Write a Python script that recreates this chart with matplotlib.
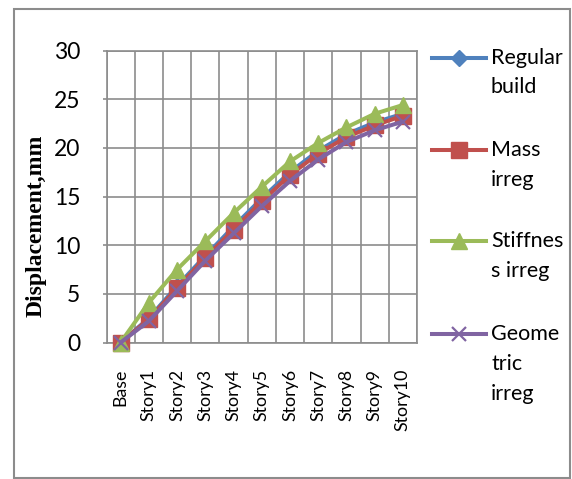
import matplotlib
matplotlib.use("Agg")
import matplotlib.pyplot as plt
from matplotlib.lines import Line2D
from matplotlib.patches import Rectangle

# Storey displacement data (mm)
stories = ["Base", "Story1", "Story2", "Story3", "Story4", "Story5",
           "Story6", "Story7", "Story8", "Story9", "Story10"]
regular = [0, 2.5, 5.8, 8.9, 11.9, 14.8, 17.5, 19.7, 21.4, 22.6, 23.5]
mass = [0, 2.4, 5.6, 8.7, 11.6, 14.5, 17.2, 19.4, 21.1, 22.3, 23.3]
stiffness = [0, 4.1, 7.5, 10.4, 13.3, 16.0, 18.6, 20.5, 22.1, 23.5, 24.4]
geometric = [0, 2.2, 5.3, 8.4, 11.2, 14.0, 16.6, 18.8, 20.6, 21.8, 22.7]

series_labels = ["Regular\nbuild", "Mass\nirreg", "Stiffnes\ns irreg", "Geome\ntric\nirreg"]
y_ticks = [0, 5, 10, 15, 20, 25, 30]

colors = ["#4F81BD", "#C0504D", "#9BBB59", "#8064A2"]
markers = ["D", "s", "^", "x"]
msizes = [8, 12, 12, 10]
values = [regular, mass, stiffness, geometric]

W, H = 572, 479
fig = plt.figure(figsize=(W / 100, H / 100), dpi=100)
fig.patch.set_facecolor("white")

def px(x, y):
    return x / W, 1 - y / H

left, top, right, bottom = 106.5, 50.5, 417, 342.5
ax = fig.add_axes([left / W, 1 - bottom / H, (right - left) / W, (bottom - top) / H])

grid_c = "#8C8C8C"
x = list(range(len(stories)))
for vals, c, m, ms in zip(values, colors, markers, msizes):
    ax.plot(x, vals, color=c, lw=2.9, marker=m, ms=ms, mfc=c, mec=c,
            mew=1.6 if m == "x" else 1, solid_capstyle="round", zorder=3,
            clip_on=False)

ax.set_xlim(-0.5, len(stories) - 0.5)
ax.set_ylim(0, 30)
ax.set_yticks(y_ticks)
ax.set_yticklabels([str(t) for t in y_ticks], fontsize=16.5, family="Lato")
ax.set_xticks(x)
ax.set_xticklabels(stories, rotation=90, fontsize=12.8, family="Lato", va="top")
ax.tick_params(axis="x", length=0, pad=19)
ax.tick_params(axis="y", length=3, width=1.2, color=grid_c, pad=16)

# vertical gridlines at category boundaries, horizontal at major ticks
for b in range(len(stories) + 1):
    ax.axvline(b - 0.5, color=grid_c, lw=1.2, zorder=1)
for t in y_ticks:
    ax.axhline(t, color=grid_c, lw=1.2, zorder=1)
for s in ax.spines.values():
    s.set_color(grid_c)
    s.set_linewidth(1.2)

# vertical axis title
fig.text(*px(36, 226), "Displacement,mm", rotation=90, ha="center", va="center",
         fontsize=17, fontweight="bold", family="Liberation Serif")

# legend drawn entry by entry
entry_y = [57.5, 150.5, 241, 334]
for lab, c, m, ms, yy in zip(series_labels, colors, markers, msizes, entry_y):
    x0, y0 = px(432, yy)
    x1, _ = px(486, yy)
    fig.add_artist(Line2D([x0, x1], [y0, y0], color=c, lw=2.9, transform=fig.transFigure))
    fig.add_artist(Line2D([(x0 + x1) / 2], [y0], color=c, marker=m, ms=ms, mfc=c, mec=c,
                          mew=1.6 if m == "x" else 1, transform=fig.transFigure))
    fig.text(*px(491, yy - 10), lab, ha="left", va="top", fontsize=15.5, family="Lato",
             linespacing=1.62)

# chart border
fig.add_artist(Rectangle(px(14, 478), (570 - 14) / W, (478 - 9) / H, fill=False,
                         edgecolor="#8C8C8C", lw=1.5, transform=fig.transFigure))

fig.savefig("out.png", dpi=100)
